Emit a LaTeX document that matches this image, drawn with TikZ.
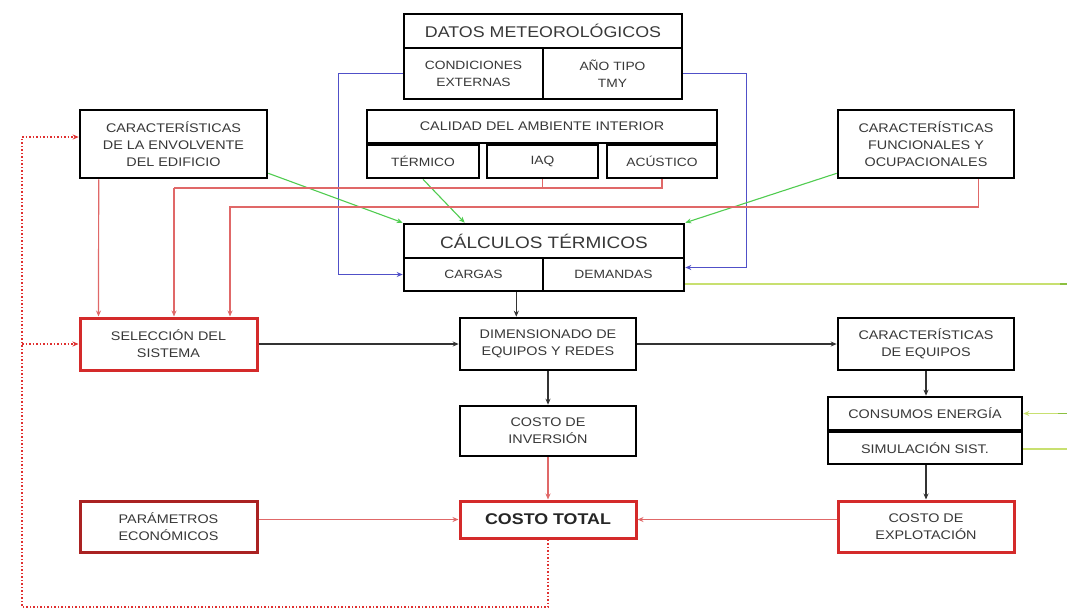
\documentclass[tikz,border=0pt]{standalone}
\usepackage{fontspec}
\setmainfont{Liberation Sans}[FakeStretch=1.15]
\usetikzlibrary{arrows.meta}
\definecolor{txt}{HTML}{383838}
\definecolor{boxred}{HTML}{D42A2A}
\definecolor{redl}{HTML}{E06868}
\definecolor{bluel}{HTML}{5050C8}
\definecolor{greenl}{HTML}{50CC50}
\definecolor{ygl}{HTML}{C8E070}
\definecolor{ygd}{HTML}{8CC040}
\definecolor{dotred}{HTML}{E03030}
\definecolor{blk}{HTML}{333333}
\begin{document}
\begin{tikzpicture}[x=1pt,y=-1pt,
  bx/.style={draw=black, line width=2.6pt, inner sep=0pt, align=center, text=txt,
     font=\fontsize{12.5}{17}\selectfont},
  rbx/.style={bx, draw=boxred, line width=3pt},
  sz/.style 2 args={minimum width=#1, minimum height=#2},
  tip/.style={-{Stealth[length=6pt,width=5pt]}},
  blkc/.style={draw=blk, line width=1.1pt, tip},
  redc/.style={draw=redl, line width=1.2pt},
  bluec/.style={draw=bluel, line width=1.1pt},
  greenc/.style={draw=greenl, line width=1.1pt, tip},
  ygc/.style={draw=ygl, line width=1.5pt},
  dotc/.style={draw=dotred, line width=1.5pt, dash pattern=on 1.5pt off 2pt},
]
\useasboundingbox[fill=white] (0,0) rectangle (1067,611);

% --- top block
\node[bx,sz={278pt}{34pt},font=\fontsize{15.5}{18}\selectfont] (datT) at (543,31) {DATOS METEOROLÓGICOS};
\node[bx,sz={139pt}{51pt},font=\fontsize{12}{17}\selectfont] (datL) at (473.5,73.5) {CONDICIONES\\EXTERNAS};
\node[bx,sz={139pt}{51pt},font=\fontsize{12}{17}\selectfont] (datR) at (612.5,73.5) {AÑO TIPO\\TMY};

\node[bx,sz={350pt}{33pt}] (cal) at (542,126.5) {CALIDAD DEL AMBIENTE INTERIOR};
\node[bx,sz={112pt}{33pt},font=\fontsize{12}{17}\selectfont] (ter) at (423,161.5) {TÉRMICO};
\node[bx,sz={111pt}{33pt},font=\fontsize{12}{17}\selectfont] (iaq) at (542.5,161.5) {IAQ};
\node[bx,sz={110pt}{33pt},font=\fontsize{12}{17}\selectfont] (acu) at (662,161.5) {ACÚSTICO};

\node[bx,sz={280pt}{34pt},font=\fontsize{16.5}{19}\selectfont] (calc) at (544,241) {CÁLCULOS TÉRMICOS};
\node[bx,sz={139pt}{33pt},font=\fontsize{12}{17}\selectfont] (cargas) at (473.5,274.5) {CARGAS};
\node[bx,sz={141pt}{33pt},font=\fontsize{12}{17}\selectfont] (demandas) at (613.5,274.5) {DEMANDAS};

\node[bx,sz={187pt}{68pt}] (env) at (173.5,144) {CARACTERÍSTICAS\\DE LA ENVOLVENTE\\DEL EDIFICIO};
\node[bx,sz={176pt}{68pt}] (fun) at (926,144) {CARACTERÍSTICAS\\FUNCIONALES Y\\OCUPACIONALES};

% --- middle
\node[rbx,sz={177pt}{52pt}] (sel) at (168.5,344) {SELECCIÓN DEL\\SISTEMA};
\node[bx,sz={176pt}{52pt}] (dim) at (548,344) {DIMENSIONADO DE\\EQUIPOS Y REDES};
\node[bx,sz={176pt}{52pt}] (ceq) at (926,344) {CARACTERÍSTICAS\\DE EQUIPOS};
\node[bx,sz={176pt}{50pt}] (inv) at (548,431) {COSTO DE\\INVERSIÓN};
\node[bx,sz={194pt}{33pt}] (cons) at (925,413.5) {CONSUMOS ENERGÍA};
\node[bx,sz={194pt}{32pt}] (sim) at (925,448) {SIMULACIÓN SIST.};

% --- bottom
\node[rbx,sz={177pt}{51pt},draw=boxred!80!black] (par) at (168.5,526.5) {PARÁMETROS\\ECONÓMICOS};
\node[rbx,sz={176pt}{37pt},font=\fontsize{15.5}{18}\selectfont\bfseries,text=black!85] (tot) at (548,519.5) {COSTO TOTAL};
\node[rbx,sz={176pt}{51pt}] (exp) at (926,526.5) {COSTO DE\\EXPLOTACIÓN};

% --- blue connectors
\draw[bluec,tip] (datL.west) -- ++(-64,0) |- (cargas.west);
\draw[bluec,tip] (datR.east) -- ++(63,0) |- ([yshift=7pt]demandas.east);

% --- green connectors
\draw[greenc] ([yshift=6pt]env.south east) -- (calc.north west);
\draw[greenc] (ter.south) -- ([xshift=62pt]calc.north west);
\draw[greenc] ([yshift=6pt]fun.south west) -- (calc.north east);

% --- red connectors to selection
\coordinate (j1) at (174,188);
\coordinate (j2) at (230,207);
\draw[redc,tip] ([xshift=20pt]env.south west) -- ([xshift=20pt]sel.north west);
\draw[redc] (acu.south) |- (j1);
\draw[redc] (iaq.south) -- (iaq.south |- j1);
\draw[redc,tip] (j1) -- (j1 |- sel.north);
\draw[redc,tip] ([xshift=-37pt]fun.south east) |- (j2) -- (j2 |- sel.north);

% --- black flow
\coordinate (ca) at ([xshift=-28pt]cargas.south east);
\draw[blkc] (ca) -- (ca |- dim.north);
\draw[blkc] (sel.east) -- (dim.west);
\draw[blkc] (dim.east) -- (ceq.west);
\draw[blkc] (dim.south) -- (inv.north);
\draw[blkc] (ceq.south) -- (ceq.south |- cons.north);
\draw[blkc] (sim.south -| ceq.south) -- (exp.north);

% --- cost connectors
\draw[redc,tip] (inv.south) -- (tot.north);
\draw[redc,tip] (par.east |- tot.west) -- (tot.west);
\draw[redc,tip] (exp.west |- tot.east) -- (tot.east);

% --- yellow-green external lines
\coordinate (y1) at (1060,284);
\coordinate (y2) at (1058,413.5);
\coordinate (y3) at (1067,449);
\draw[ygc] ([yshift=-9.5pt]demandas.east) -- (y1);
\draw[draw=ygd,line width=1.5pt] (y1) -- ++(7,0);
\draw[ygc,tip] (y2) -- (cons.east);
\draw[draw=ygd,line width=1.5pt] (y2) -- ++(9,0);
\draw[ygc] ([yshift=-1pt]sim.east) -- (y3);

% --- dotted feedback
\coordinate (dl) at (22,607);
\coordinate (dtop) at (22,137);
\draw[dotc] (tot.south) |- (dl) -- (dtop);
\draw[dotc,tip] (dtop) -- (dtop -| env.west);
\draw[dotc,tip] (dl |- sel.west) -- (sel.west);
\end{tikzpicture}
\end{document}
